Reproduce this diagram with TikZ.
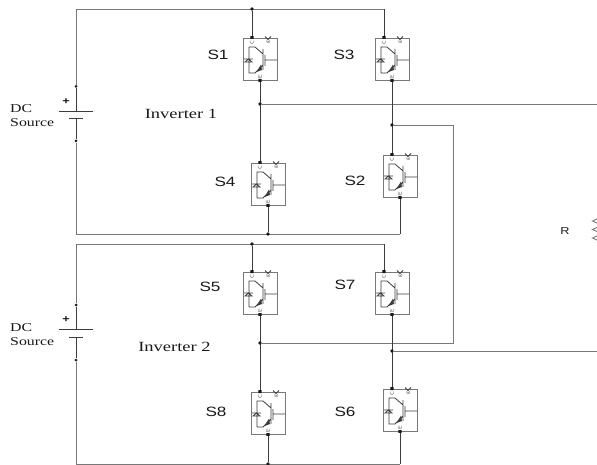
\documentclass[tikz,border=0pt]{standalone}
\usepackage{fontspec}
\usetikzlibrary{backgrounds}
\newfontfamily\invfont[FakeStretch=1.32]{Liberation Serif}
\newfontfamily\swfont[FakeStretch=1.27]{Liberation Sans}
\definecolor{railgray}{HTML}{787878}
\definecolor{wiregray}{HTML}{3C3C3C}
\tikzset{
  wire/.style={draw=wiregray,line width=0.9pt},
  rail/.style={draw=railgray,line width=0.85pt},
  junction/.style={circle,fill=black!90,inner sep=0pt,minimum size=3.6pt},
  swlabel/.style={text=black!90,font=\swfont\fontsize{13.5}{14}\selectfont},
  invlabel/.style={text=black!90,font=\invfont\fontsize{14}{15}\selectfont},
  dclabel/.style={text=black!90,align=left,font=\invfont\fontsize{12}{14}\selectfont},
  portlabel/.style={text=black!65,inner sep=0pt,rotate=90,font=\sffamily\fontsize{5.5}{6}\selectfont},
  pluslabel/.style={text=black!90,inner sep=0pt,font=\swfont\bfseries\fontsize{10}{10}\selectfont},
  igbt/.pic={
    \begin{scope}[shift={(-17,-21)}]
      \draw[rail] (0,0) rectangle (34,42);
      \draw[draw=wiregray,line width=0.8pt]
        (34,22) -- (22,22) (22,17) -- (22,28) (20,11) -- (20,32)
        (20,16) -- (12,9) -- (6,9) -- (6,35) -- (12,35) -- (20,27)
        (1,21) -- (10,21) (2,24) -- (5.5,21) -- (9,24) -- cycle;
      \fill[wiregray] (13.5,34) -- (18,26.5) -- (19,32) -- cycle;
      \draw[draw=wiregray,line width=0.9pt] (22,-1.5) -- (25,1.5) -- (28,-1.5);
      \fill[black!90] (7.4,-1.8) rectangle (10.6,1) (15.4,41) rectangle (18.6,43.8);
      \node[portlabel] (-clabel) at (9,4.2) {C};
      \node[portlabel] (-glabel) at (25.5,4) {g};
      \node[portlabel] (-elabel) at (17,38.5) {E};
      \coordinate (-c) at (9,-1);
      \coordinate (-e) at (17,43);
    \end{scope}
  }
}
\begin{document}
\begin{tikzpicture}[x=1pt,y=-1pt]
  \useasboundingbox (0,0) rectangle (597,465);
  % switches
  \pic (s1) at (260,59) {igbt};
  \pic (s3) at (392,59) {igbt};
  \pic (s4) at (268,184) {igbt};
  \pic (s2) at (400,176) {igbt};
  \pic (s5) at (260,293) {igbt};
  \pic (s7) at (392,293) {igbt};
  \pic (s8) at (268,413) {igbt};
  \pic (s6) at (400,410) {igbt};
  \node[swlabel] (l1) at (218,55) {S1};
  \node[swlabel] (l3) at (344,55) {S3};
  \node[swlabel] (l4) at (225,182) {S4};
  \node[swlabel] (l2) at (355,181) {S2};
  \node[swlabel] (l5) at (210,287) {S5};
  \node[swlabel] (l7) at (345,285) {S7};
  \node[swlabel] (l8) at (216,412) {S8};
  \node[swlabel] (l6) at (345,412) {S6};
  \node[invlabel] (inv1) at (181,114) {Inverter 1};
  \node[invlabel] (inv2) at (174.5,347) {Inverter 2};
  \node[dclabel,anchor=west,inner sep=0pt] (dc1) at (10,116) {DC\\Source};
  \node[dclabel,anchor=west,inner sep=0pt] (dc2) at (10,334.5) {DC\\Source};
  \node[swlabel,font=\swfont\fontsize{10}{11}\selectfont] (rl) at (565,231) {R};
  % corners and free ends
  \coordinate (top1) at (76,9);
  \coordinate (bot1) at (76,234);
  \coordinate (top2) at (76,244);
  \coordinate (bot2) at (76,464);
  \coordinate (outa) at (597,104);
  \coordinate (outb) at (597,351);
  \coordinate (turn1) at (453,125);
  \coordinate (turn2) at (453,343);
  % first source
  \coordinate (p1a) at (59,111);
  \coordinate (p1b) at (93,111);
  \coordinate (p1c) at (69,118);
  \coordinate (p1d) at (83,118);
  \node[junction,minimum size=3pt] (d1a) at (76,86.5) {};
  \node[junction,minimum size=3pt] (d1b) at (76,141) {};
  \node[pluslabel] (plus1) at (66,102) {+};
  % second source
  \coordinate (p2a) at (59,329);
  \coordinate (p2b) at (93,329);
  \coordinate (p2c) at (69,337);
  \coordinate (p2d) at (83,337);
  \node[junction,minimum size=3pt] (d2a) at (76,305) {};
  \node[junction,minimum size=3pt] (d2b) at (76,360) {};
  \node[pluslabel] (plus2) at (66,320) {+};
  \begin{scope}[wire]
    \draw (p1a) -- (p1b);
    \draw (p1c) -- (p1d);
    \draw (d1a) -- (76,111);
    \draw (76,118) -- (d1b);
    \draw (p2a) -- (p2b);
    \draw (p2c) -- (p2d);
    \draw (d2a) -- (76,329);
    \draw (76,337) -- (d2b);
  \end{scope}
  % junctions
  \node[junction] (j1) at (s1-c |- top1) {};
  \node[junction] (j2) at (s4-e |- bot1) {};
  \node[junction] (j3) at (s5-c |- top2) {};
  \node[junction] (j4) at (s8-e |- bot2) {};
  \node[junction] (j5) at (s1-e |- outa) {};
  \node[junction] (j6) at (s3-e |- turn1) {};
  \node[junction] (j7) at (s5-e |- turn2) {};
  \node[junction] (j8) at (s7-e |- outb) {};
  \begin{scope}[on background layer]
    % rails
    \draw[rail] (d1a) -- (top1) -- (top1 -| s3-c);
    \draw[rail] (d1b) -- (bot1) -- (bot1 -| s2-e);
    \draw[rail] (d2a) -- (top2) -- (top2 -| s7-c);
    \draw[rail] (d2b) -- (bot2) -- (bot2 -| s6-e);
    \draw[rail] (j5) -- (outa);
    \draw[rail] (j6) -- (turn1) -- (turn2) -- (j7);
    \draw[rail] (j8) -- (outb);
    % legs
    \draw[wire] (j1) to (s1-c);
    \draw[wire] (top1 -| s3-c) to (s3-c);
    \draw[wire] (s1-e) to (s4-c);
    \draw[wire] (s3-e) to (s2-c);
    \draw[wire] (s4-e) to (j2);
    \draw[wire] (s2-e) to (bot1 -| s2-e);
    \draw[wire] (j3) to (s5-c);
    \draw[wire] (top2 -| s7-c) to (s7-c);
    \draw[wire] (s5-e) to (s8-c);
    \draw[wire] (s7-e) to (s6-c);
    \draw[wire] (s8-e) to (j4);
    \draw[wire] (s6-e) to (bot2 -| s6-e);
  \end{scope}
  % load, cut by the page edge
  \foreach \y in {221,229.5,238}
    \draw[draw=railgray,line width=0.9pt] (598,\y-2.5) -- (592.5,\y) -- (598,\y+2.5);
\end{tikzpicture}
\end{document}
